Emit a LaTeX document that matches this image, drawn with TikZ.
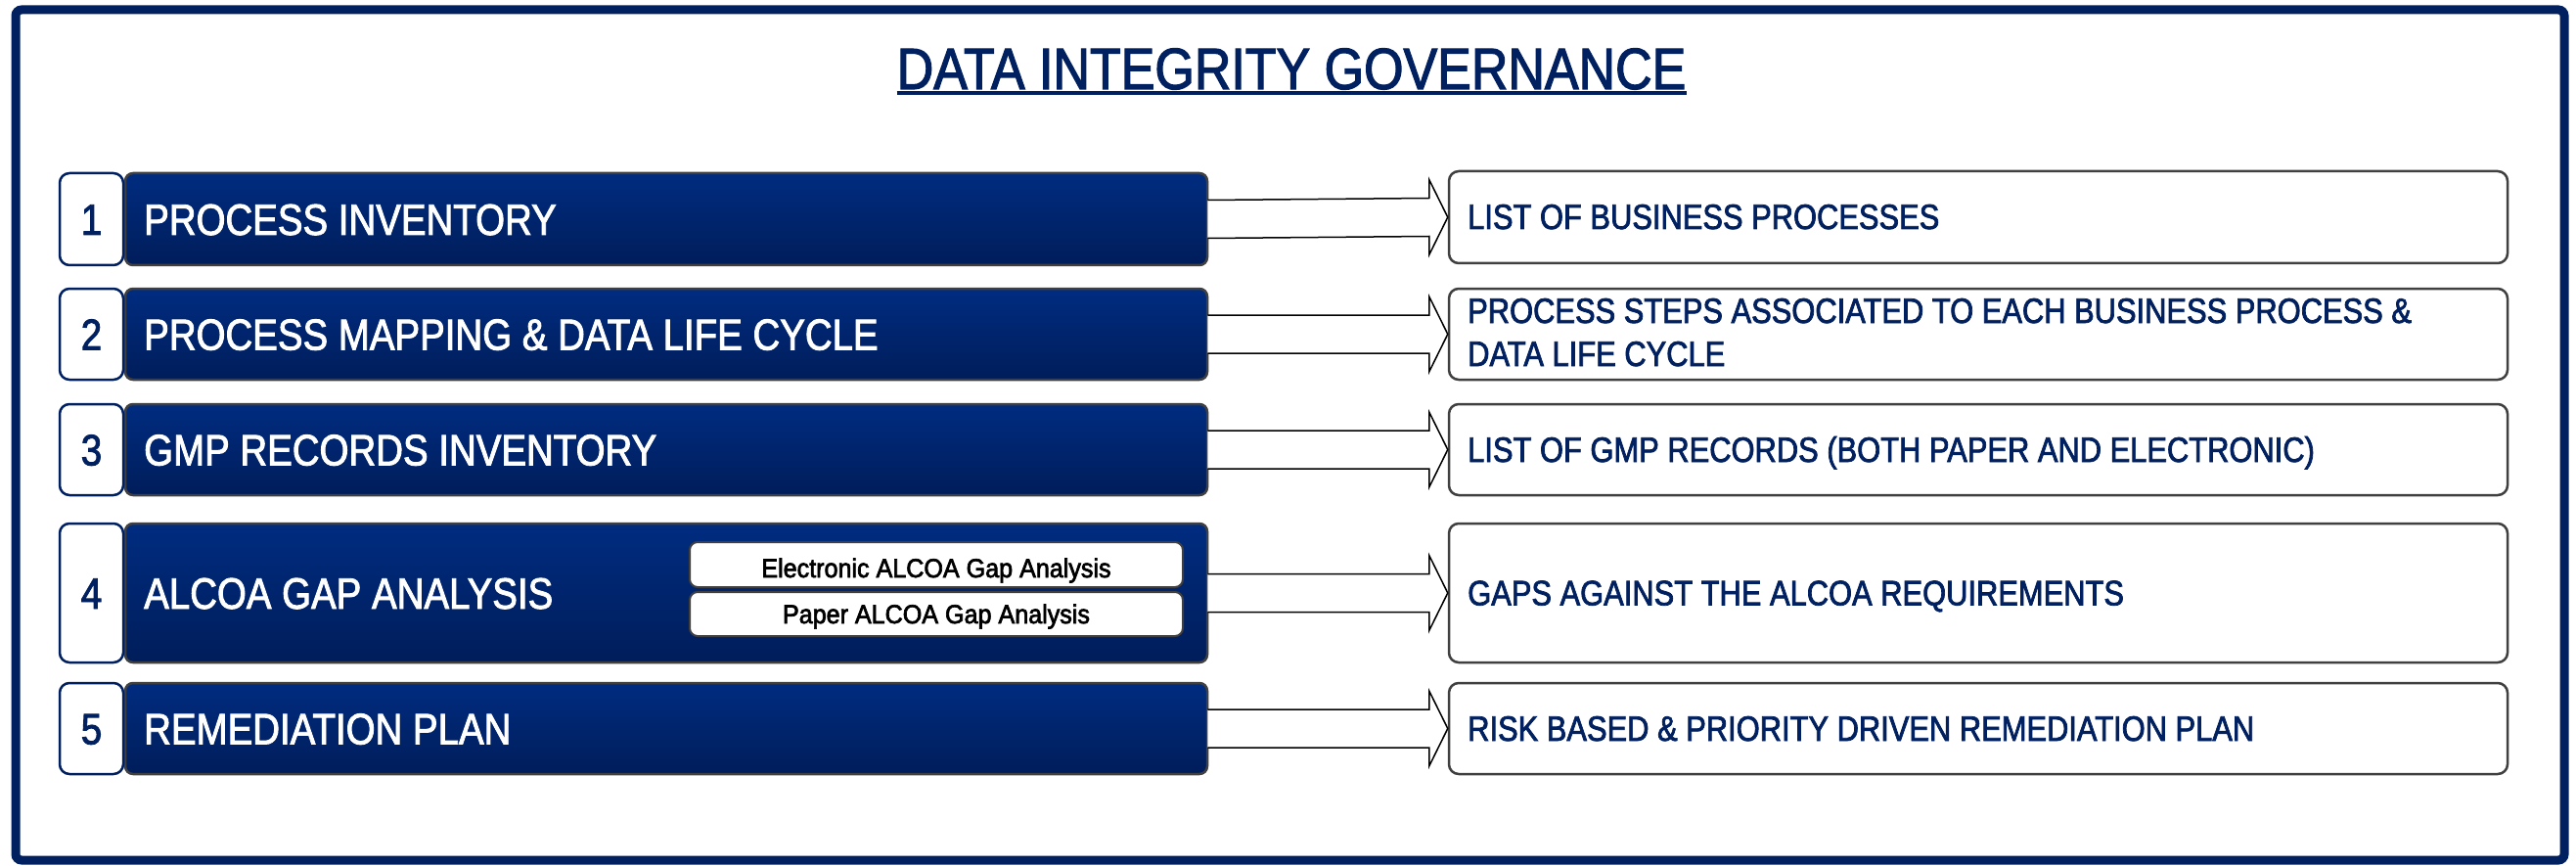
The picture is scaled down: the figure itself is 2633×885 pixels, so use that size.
\documentclass[tikz,border=0pt]{standalone}
\usepackage{fontspec}
\setmainfont{Liberation Sans}[FakeStretch=0.86, FakeBold=2]
\newfontfamily\titlefont{Liberation Sans}[FakeStretch=0.872, FakeBold=2]
\newfontfamily\subfont{Liberation Sans}[FakeStretch=0.93, FakeBold=2.5]
\usetikzlibrary{calc}
\definecolor{navy}{HTML}{002060}
\definecolor{navytop}{HTML}{002C80}
\definecolor{navybot}{HTML}{001D5A}
\definecolor{edgegray}{HTML}{404040}
\tikzset{
  mainbox/.style={draw=edgegray, line width=2.5, rounded corners=8, top color=navytop, bottom color=navybot, minimum width=1106, minimum height=#1, inner sep=0},
  numbox/.style={draw=navy, line width=2.5, rounded corners=10, fill=white, minimum width=65, minimum height=#1, inner sep=0},
  outbox/.style={draw=edgegray, line width=2.5, rounded corners=10, fill=white, minimum width=1082, minimum height=#1, inner sep=0},
  subbox/.style={draw=edgegray, line width=2, rounded corners=8, fill=white, minimum width=504, minimum height=#1, inner sep=0},
  maintext/.style={text=white, font=\fontsize{44.7}{50}\selectfont, inner sep=0, anchor=base west},
  numtext/.style={text=navy, font=\fontsize{44.7}{50}\selectfont, inner sep=0, anchor=base},
  outtext/.style={text=navy, font=\fontsize{35.9}{44}\selectfont, inner sep=0, anchor=base west, align=left},
  subtext/.style={text=black, font=\subfont\fontsize{27}{30}\selectfont, inner sep=0, anchor=base},
  titletext/.style={text=navy, font=\titlefont\fontsize{59.6}{66}\selectfont, inner sep=0, anchor=base},
  flowarrow/.style={draw=black, line width=1.5, fill=white, line join=miter},
}
\newcommand{\flowarr}[2]{%
  \draw[flowarrow] ($(#1.east)+(-1,-19.5)$) -- ($(#2.west)+(-19,-19.5)$) -- ($(#2.west)+(-19,-38.5)$) -- (#2.west) -- ($(#2.west)+(-19,38.5)$) -- ($(#2.west)+(-19,19.5)$) -- ($(#1.east)+(-1,19.5)$);}
\begin{document}
\begin{tikzpicture}[x=1pt, y=-1pt]
\useasboundingbox (0,0) rectangle (2633,885);
\fill[white] (0,0) rectangle (2633,885);
% frame
\draw[navy, line width=9, rounded corners=6] (16,10) rectangle (2621,879);
% title
\node[titletext] (title) at (1320,91) {DATA INTEGRITY GOVERNANCE};
\draw[navy, line width=4] ($(title.base west)+(0,4)$) -- ($(title.base east)+(0,4)$);

% row 1
\node[mainbox=94] (b1) at (681,224) {};
\node[numbox=94] (n1) at (93.5,224) {};
\node[outbox=94] (r1) at (2022,222) {};
% row 2
\node[mainbox=93] (b2) at (681,341.5) {};
\node[numbox=93] (n2) at (93.5,341.5) {};
\node[outbox=93] (r2) at (2022,341.5) {};
% row 3
\node[mainbox=93] (b3) at (681,459.5) {};
\node[numbox=93] (n3) at (93.5,459.5) {};
\node[outbox=93] (r3) at (2022,459.5) {};
% row 4
\node[mainbox=142] (b4) at (681,606) {};
\node[numbox=142] (n4) at (93.5,606) {};
\node[outbox=142] (r4) at (2022,606) {};
% row 5
\node[mainbox=93] (b5) at (681,744.5) {};
\node[numbox=93] (n5) at (93.5,744.5) {};
\node[outbox=93] (r5) at (2022,744.5) {};

% arrows
\flowarr{b1}{r1}
\flowarr{b2}{r2}
\flowarr{b3}{r3}
\flowarr{b4}{r4}
\flowarr{b5}{r5}

% numbers
\node[numtext] (k1) at (93.5,240) {1};
\node[numtext] (k2) at (93.5,357.5) {2};
\node[numtext] (k3) at (93.5,475.5) {3};
\node[numtext] (k4) at (93.5,622) {4};
\node[numtext] (k5) at (93.5,760.5) {5};

% main texts
\node[maintext] (t1) at (147,240) {PROCESS INVENTORY};
\node[maintext] (t2) at (147,357.5) {PROCESS MAPPING \& DATA LIFE CYCLE};
\node[maintext] (t3) at (147,475.5) {GMP RECORDS INVENTORY};
\node[maintext] (t4) at (147,622) {ALCOA GAP ANALYSIS};
\node[maintext] (t5) at (147,760.5) {REMEDIATION PLAN};

% sub boxes in row 4
\node[subbox=46] (e4) at (957,577) {};
\node[subbox=45] (p4) at (957,627.5) {};
\node[subtext] (e4t) at (957,590) {Electronic ALCOA Gap Analysis};
\node[subtext] (p4t) at (957,637) {Paper ALCOA Gap Analysis};

% output texts
\node[outtext] (o1) at (1500,234) {LIST OF BUSINESS PROCESSES};
\node[outtext] (o2) at (1500,374) {PROCESS STEPS ASSOCIATED TO EACH BUSINESS PROCESS \&\\DATA LIFE CYCLE};
\node[outtext] (o3) at (1500,472) {LIST OF GMP RECORDS (BOTH PAPER AND ELECTRONIC)};
\node[outtext] (o4) at (1500,618.5) {GAPS AGAINST THE ALCOA REQUIREMENTS};
\node[outtext] (o5) at (1500,757) {RISK BASED \& PRIORITY DRIVEN REMEDIATION PLAN};
\end{tikzpicture}
\end{document}
